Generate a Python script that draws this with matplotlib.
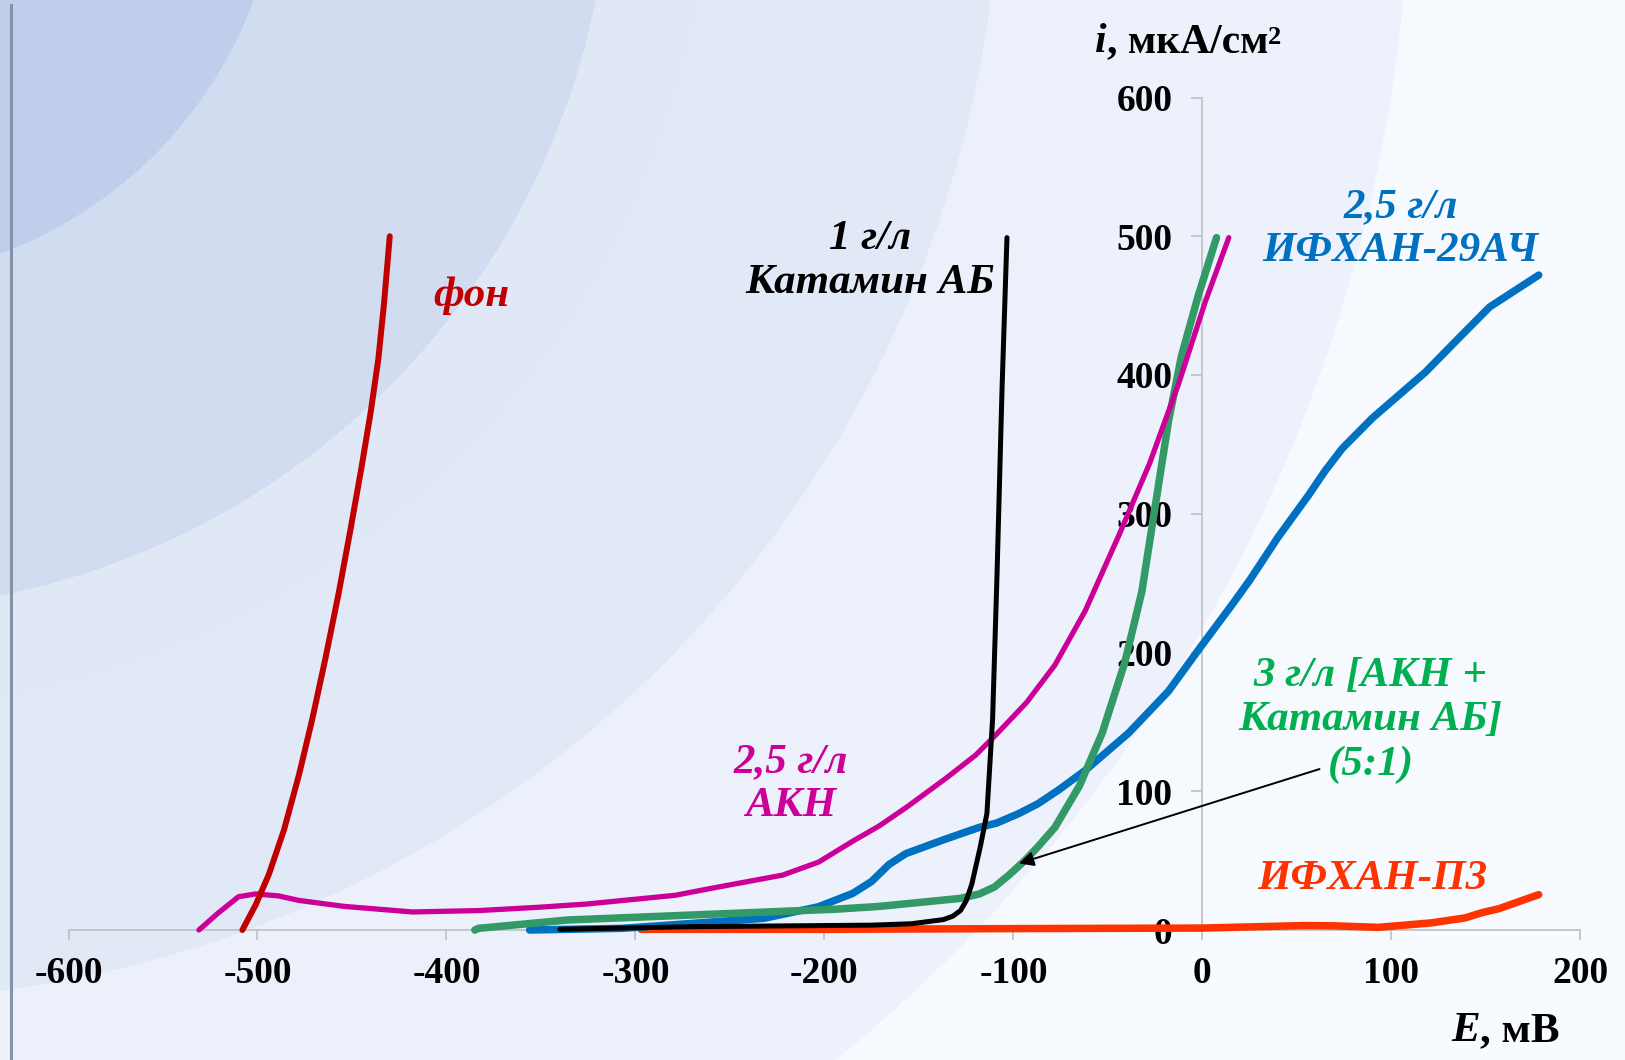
import numpy as np
import matplotlib.pyplot as plt

plt.rcParams['font.family'] = ['Liberation Serif', 'DejaVu Serif']
plt.rcParams['font.weight'] = 'bold'
plt.rcParams['axes.unicode_minus'] = False

# polarisation curves, E in mV, i in uA/cm2
fon_E = [-508, -501, -494, -486, -478, -471, -464, -457, -451, -445, -440, -436, -433, -430]
fon_i = [0, 18, 40, 72, 112, 152, 196, 243, 287, 333, 374, 412, 452, 500]

akn_E = [-531, -521, -510, -501, -489, -478, -454, -418, -383, -351, -326, -279, -260,
         -222, -203, -185, -171, -156, -136, -120, -109, -93, -78, -62, -44, -28, -12.5, 1.6, 14]
akn_i = [0, 12, 24, 26, 24.6, 21.3, 17, 13, 14, 16.4, 18.7, 25, 30,
         39.6, 49, 64, 75, 89, 109, 126, 141, 164, 191, 230, 285, 336, 394, 453, 499]

kat_E = [-340, -270, -175, -154, -137, -132, -128, -125, -122, -117.5, -114, -111, -108.7, -106, -103.4]
kat_i = [0.5, 2.4, 3.5, 4.5, 7.5, 10, 14, 21, 33, 60, 84, 152, 254, 390, 499]

mix_E = [-385, -383, -336, -270, -194, -171, -128, -118, -110, -102, -94, -87, -78, -65, -53, -41,
         -32, -25, -18, -11, -2, 7.5]
mix_i = [0, 1.2, 7.2, 10.8, 15, 17, 22.8, 26, 31, 40, 50, 60, 74, 104, 142, 193,
         244, 305, 366, 414, 458, 499]

ach_E = [-356, -307, -232, -203, -185, -175, -166, -157, -137, -118, -109, -97, -87, -76,
         -62, -39, -18, -2, 16, 25, 40, 56, 65, 74, 90, 118, 136, 152, 178]
ach_i = [0, 1.2, 8.4, 16.8, 26.4, 35, 47, 55, 65, 74, 77, 84, 91, 101,
         115, 142, 172, 202, 235, 252, 283, 313, 331, 347, 369, 402, 427, 449, 472]

p3_E = [-297, -200, -100, 0, 54, 70, 93, 121, 139, 148, 157, 178]
p3_i = [0.5, 0.5, 1, 1.4, 3.2, 3, 1.9, 5.1, 8.7, 12.5, 15.4, 25.5]

x_ticks = list(range(-600, 201, 100))
y_ticks = list(range(0, 601, 100))

W, H = 1625, 1060
fig = plt.figure(figsize=(W / 100, H / 100), dpi=100)

# slide background: pale blue arcs fading to white
yy, xx = np.mgrid[0:H, 0:W]
d = np.hypot(xx + 150, yy + 150)
band_cols = np.array([[191, 206, 235], [208, 219, 240], [223, 230, 244],
                      [233, 238, 248], [243, 246, 251]]) / 255
img = band_cols[np.digitize(d, [430, 760, 1150, 1560])]
img = np.clip(img + (d / 2200.0)[..., None] * 0.02, 0, 1)
bg = fig.add_axes([0, 0, 1, 1], zorder=-10)
bg.imshow(img, aspect='auto', interpolation='bilinear')
bg.axis('off')
fig.add_artist(plt.Line2D([10.5 / W, 10.5 / W], [0, 1 - 5 / H], color='#8593A8', lw=2.2))

ax = fig.add_axes([68.5 / W, 1 - 930 / H, (1580.3 - 68.5) / W, (930 - 97.5) / H])
ax.patch.set_alpha(0)

kw = dict(solid_capstyle='round', solid_joinstyle='round', clip_on=False)
ax.plot(p3_E, p3_i, color='#FF3300', lw=5.4, **kw)
ax.plot(ach_E, ach_i, color='#0070C0', lw=5.4, **kw)
ax.plot(mix_E, mix_i, color='#339966', lw=5.4, **kw)
ax.plot(akn_E, akn_i, color='#CC0099', lw=3.8, **kw)
ax.plot(kat_E, kat_i, color='black', lw=3.6, **kw)
ax.plot(fon_E, fon_i, color='#C00000', lw=4.3, **kw)

ax.set_xlim(-600, 200)
ax.set_ylim(0, 600)
ax.set_xticks(x_ticks)
ax.set_yticks(y_ticks)
for s in ['top', 'right']:
    ax.spines[s].set_visible(False)
ax.spines['left'].set_position(('data', 0))
for s in ['left', 'bottom']:
    ax.spines[s].set_color('#BFBFBF')
    ax.spines[s].set_linewidth(1.2)
    ax.spines[s].set_zorder(0.5)
ax.tick_params(axis='y', direction='out', length=8, width=1.2, color='#BFBFBF', pad=13.5, labelsize=27)
ax.tick_params(axis='x', direction='out', length=7, width=1.2, color='#BFBFBF', pad=12, labelsize=27)

lab = dict(fontsize=31, fontweight='bold', fontstyle='italic', ha='center', va='center',
           multialignment='center')
ax.text(-387, 457, 'фон', color='#C00000', **lab)
ax.text(-176, 482, '1 г/л\nКатамин АБ', color='black', **lab)
ax.text(-218, 105, '2,5 г/л\nАКН', color='#CC0099', **lab)
ax.text(105, 505, '2,5 г/л\nИФХАН-29АЧ', color='#0070C0', **lab)
ax.text(89, 151, '3 г/л [АКН +\nКатамин АБ]\n(5:1)', color='#00B050', **lab)
ax.text(90, 37, 'ИФХАН-П3', color='#FF3300', **lab)

ax.annotate('', xy=(-97, 48), xytext=(62, 116),
            arrowprops=dict(arrowstyle='-|>', color='black', lw=1.4, mutation_scale=22,
                            shrinkA=0, shrinkB=0))

# axis titles: italic symbol + upright units
t1 = fig.text(1095 / W, 1 - 52 / H, 'i', fontsize=30, fontweight='bold', fontstyle='italic',
              va='baseline')
t1b = ax.annotate(', мкА/см', xy=(1, 0), xycoords=t1, va='bottom', ha='left', fontsize=30,
                  fontweight='bold')
ax.annotate('2', xy=(1, 0.93), xycoords=t1b, va='top', ha='left', fontsize=19,
            fontweight='bold')
t2 = fig.text(1451 / W, 1 - 1041 / H, 'E', fontsize=31, fontweight='bold', fontstyle='italic',
              va='baseline')
ax.annotate(', мВ', xy=(1, 0), xycoords=t2, va='bottom', ha='left', fontsize=31,
            fontweight='bold')

fig.savefig('out.png', dpi=100)
